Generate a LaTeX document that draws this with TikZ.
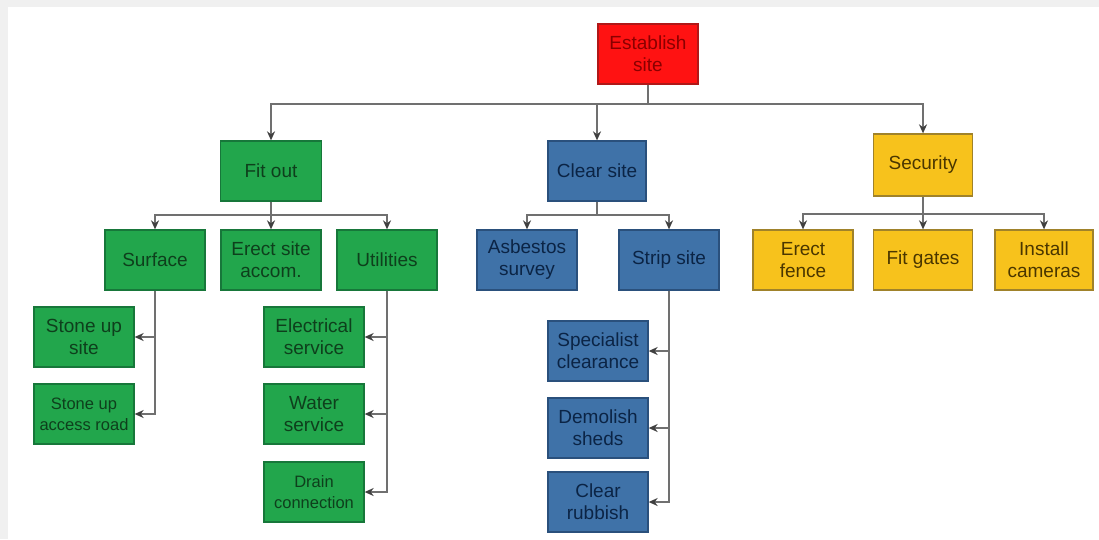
\documentclass[tikz,border=0pt]{standalone}
\usepackage{fontspec}
\setmainfont{Liberation Sans}
\usetikzlibrary{arrows.meta}
\definecolor{bggray}{HTML}{F0F0F0}
\definecolor{gfill}{HTML}{22A64C}
\definecolor{gline}{HTML}{17773A}
\definecolor{gtext}{HTML}{0E3F1C}
\definecolor{bfill}{HTML}{3F72A8}
\definecolor{bline}{HTML}{2A507C}
\definecolor{btext}{HTML}{0B2445}
\definecolor{yfill}{HTML}{F7C21C}
\definecolor{yline}{HTML}{A0822A}
\definecolor{ytext}{HTML}{4A3600}
\definecolor{rfill}{HTML}{FF1212}
\definecolor{rline}{HTML}{B01818}
\definecolor{rtext}{HTML}{8A0000}
\definecolor{conn}{HTML}{707070}
\tikzset{
  x=1pt, y=-1pt,
  box/.style={draw, line width=1.3pt, rectangle, minimum width=100pt, minimum height=60pt,
    inner sep=0pt, align=center, font=\fontsize{19}{22}\selectfont},
  gbox/.style={box, fill=gfill, draw=gline, text=gtext},
  bbox/.style={box, fill=bfill, draw=bline, text=btext},
  ybox/.style={box, fill=yfill, draw=yline, text=ytext},
  rbox/.style={box, fill=rfill, draw=rline, text=rtext},
  smalltext/.style={font=\fontsize{16.5}{21}\selectfont},
  link/.style={draw=conn, line width=1.4pt},
  arr/.style={link, -{Stealth[length=9pt,width=8pt,color=black!75]}}
}
\begin{document}
\begin{tikzpicture}
\useasboundingbox (0,0) rectangle (1099,539);
\fill[bggray] (0,0) rectangle (1099,539);
\fill[white] (8,7) rectangle (1099,539);

% level 0
\node[rbox] (est) at (648,54) {Establish\\site};
% level 1
\node[gbox, minimum width=101pt] (fit) at (271,171) {Fit out};
\node[bbox, minimum width=98pt] (clr) at (597,171) {Clear site};
\node[ybox, minimum width=99pt, minimum height=62pt] (sec) at (923,165) {Security};
% level 2
\node[gbox] (sur) at (155,260) {Surface};
\node[gbox] (ere) at (271,260) {Erect site\\accom.};
\node[gbox] (uti) at (387,260) {Utilities};
\node[bbox] (asb) at (527,260) {Asbestos\\survey};
\node[bbox] (str) at (669,260) {Strip site};
\node[ybox] (fen) at (803,260) {Erect\\fence};
\node[ybox, minimum width=99pt] (gat) at (923,260) {Fit gates};
\node[ybox, minimum width=98pt] (cam) at (1044,260) {Install\\cameras};
% level 3
\node[gbox] (sus) at (84,337) {Stone up\\site};
\node[gbox, smalltext] (sar) at (84,414) {Stone up\\access road};
\node[gbox] (ele) at (314,337) {Electrical\\service};
\node[gbox] (wat) at (314,414) {Water\\service};
\node[gbox, smalltext] (dra) at (314,492) {Drain\\connection};
\node[bbox] (spe) at (598,351) {Specialist\\clearance};
\node[bbox] (dem) at (598,428) {Demolish\\sheds};
\node[bbox] (rub) at (598,502) {Clear\\rubbish};

% connectors level 0 -> 1
\coordinate (b0) at (648,104);
\draw[link] (est.south) -- (b0);
\draw[arr] (b0) -| (fit.north);
\draw[arr] (b0) -| (clr.north);
\draw[arr] (b0) -| (sec.north);
% fit out
\coordinate (b1) at (271,215);
\draw[link] (fit.south) -- (b1);
\draw[arr] (b1) -| (sur.north);
\draw[arr] (b1) -- (ere.north);
\draw[arr] (b1) -| (uti.north);
% clear site
\coordinate (b2) at (597,215);
\draw[link] (clr.south) -- (b2);
\draw[arr] (b2) -| (asb.north);
\draw[arr] (b2) -| (str.north);
% security
\coordinate (b3) at (923,214);
\draw[link] (sec.south) -- (b3);
\draw[arr] (b3) -| (fen.north);
\draw[arr] (b3) -- (gat.north);
\draw[arr] (b3) -| (cam.north);
% surface children
\draw[arr] (sur.south) |- (sus.east);
\draw[arr] (sur.south) |- (sar.east);
% utilities children
\draw[arr] (uti.south) |- (ele.east);
\draw[arr] (uti.south) |- (wat.east);
\draw[arr] (uti.south) |- (dra.east);
% strip site children
\draw[arr] (str.south) |- (spe.east);
\draw[arr] (str.south) |- (dem.east);
\draw[arr] (str.south) |- (rub.east);
\end{tikzpicture}
\end{document}
